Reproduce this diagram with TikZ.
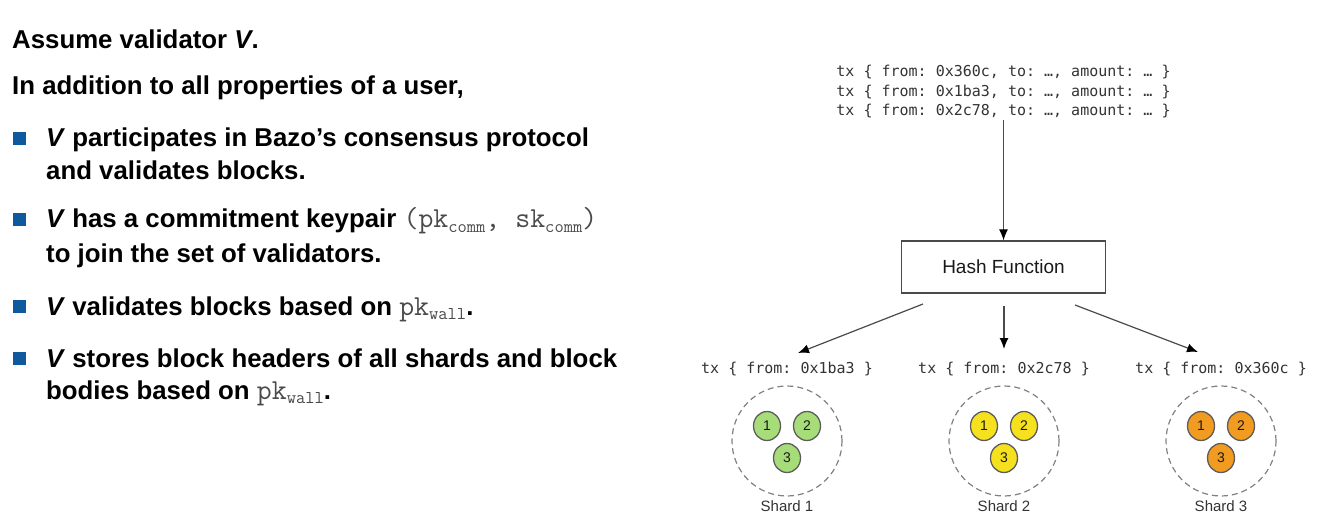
\documentclass[tikz,border=0pt]{standalone}
\usepackage{fontspec}
\setmainfont{Liberation Sans}
\newfontfamily\dmono{DejaVu Sans Mono}
\usetikzlibrary{arrows.meta,shapes.geometric}
\definecolor{bulletblue}{HTML}{0E5A9C}
\definecolor{txtgray}{HTML}{333333}
\definecolor{monogray}{HTML}{4A4A4A}
\definecolor{linegray}{HTML}{4A4A4A}
\definecolor{sgreen}{HTML}{A6DD78}
\definecolor{syellow}{HTML}{F5E11E}
\definecolor{sorange}{HTML}{F29B21}
\newcommand{\mysub}[1]{\raisebox{-4.5pt}{\fontsize{18}{18}\selectfont #1}}
\newcommand{\monopart}[1]{{\ttfamily\mdseries\fontsize{29}{30}\selectfont\color{monogray}#1}}
\begin{document}
\frenchspacing
\begin{tikzpicture}[x=1pt,y=-1pt,
  bodytext/.style={anchor=base west, inner sep=0pt, font=\fontsize{25.8}{30}\selectfont\bfseries},
  bsq/.style={fill=bulletblue, minimum size=13pt, inner sep=0pt},
  txsty/.style={inner sep=1pt, text=txtgray, font=\dmono\fontsize{15}{19.5}\selectfont},
  hashbox/.style={draw=linegray, line width=1.2pt, minimum width=204pt, minimum height=52pt, text=black!90, font=\fontsize{19}{20}\selectfont},
  shardring/.style={circle, draw=gray, dash pattern=on 6pt off 4pt, line width=1.2pt, minimum size=110pt, inner sep=0pt},
  val/.style={ellipse, draw=linegray!90, line width=1.3pt, minimum width=27pt, minimum height=29pt, inner sep=0pt, text=black!90, font=\fontsize{14}{14}\selectfont},
  shardlbl/.style={text=txtgray, inner sep=0pt, font=\fontsize{15}{15}\selectfont},
  arr/.style={draw=linegray, line width=1.2pt, -{Latex[length=11pt,width=9pt,color=black]}}
]
\useasboundingbox (0,0) rectangle (1319,529);

% left text
\node[bodytext] (t1) at (12,49) {Assume validator \textit{V}.};
\node[bodytext] (t2) at (12,95) {In addition to all properties of a user,};

\node[bsq] (b1) at (19.5,138.5) {};
\node[bodytext] (b1a) at (46,147) {\textit{V} participates in Bazo’s consensus protocol};
\node[bodytext] (b1b) at (46,180) {and validates blocks.};

\node[bsq] (b2) at (19.5,219.5) {};
\node[bodytext] (b2a) at (46,228) {\textit{V} has a commitment keypair \monopart{(pk\mysub{comm}, sk\mysub{comm})}};
\node[bodytext] (b2b) at (46,262) {to join the set of validators.};

\node[bsq] (b3) at (19.5,306.5) {};
\node[bodytext] (b3a) at (46,315) {\textit{V} validates blocks based on \monopart{pk\mysub{wall}}.};

\node[bsq] (b4) at (19.5,358.5) {};
\node[bodytext] (b4a) at (46,367) {\textit{V} stores block headers of all shards and block};
\node[bodytext] (b4b) at (46,399) {bodies based on \monopart{pk\mysub{wall}}.};

% diagram
\node[txsty, align=left] (txs) at (1003.5,92) {tx \{ from: 0x360c, to: …, amount: … \}\\tx \{ from: 0x1ba3, to: …, amount: … \}\\tx \{ from: 0x2c78, to: …, amount: … \}};
\node[hashbox] (hash) at (1003.5,267) {Hash Function};
\draw[arr] (txs.south) -- (hash.north);

\node[txsty] (l1) at (787,369) {tx \{ from: 0x1ba3 \}};
\node[txsty] (l2) at (1004,369) {tx \{ from: 0x2c78 \}};
\node[txsty] (l3) at (1221,369) {tx \{ from: 0x360c \}};

\coordinate (a1s) at (923,304);
\coordinate (a1e) at (798,353);
\coordinate (a2s) at (1004,306);
\coordinate (a2e) at (1004,349);
\coordinate (a3s) at (1075,305);
\coordinate (a3e) at (1198,352);
\draw[arr] (a1s) -- (a1e);
\draw[arr] (a2s) -- (a2e);
\draw[arr] (a3s) -- (a3e);

% shards
\node[shardring] (sh1) at (787,441) {};
\node[shardring] (sh2) at (1004,441) {};
\node[shardring] (sh3) at (1221,441) {};

\node[val, fill=sgreen] (v11) at (767,426) {1};
\node[val, fill=sgreen] (v12) at (807,426) {2};
\node[val, fill=sgreen] (v13) at (787,458) {3};

\node[val, fill=syellow] (v21) at (984,426) {1};
\node[val, fill=syellow] (v22) at (1024,426) {2};
\node[val, fill=syellow] (v23) at (1004,458) {3};

\node[val, fill=sorange] (v31) at (1201,426) {1};
\node[val, fill=sorange] (v32) at (1241,426) {2};
\node[val, fill=sorange] (v33) at (1221,458) {3};

\node[shardlbl] (s1) at (787,506) {Shard 1};
\node[shardlbl] (s2) at (1004,506) {Shard 2};
\node[shardlbl] (s3) at (1221,506) {Shard 3};
\end{tikzpicture}
\end{document}
